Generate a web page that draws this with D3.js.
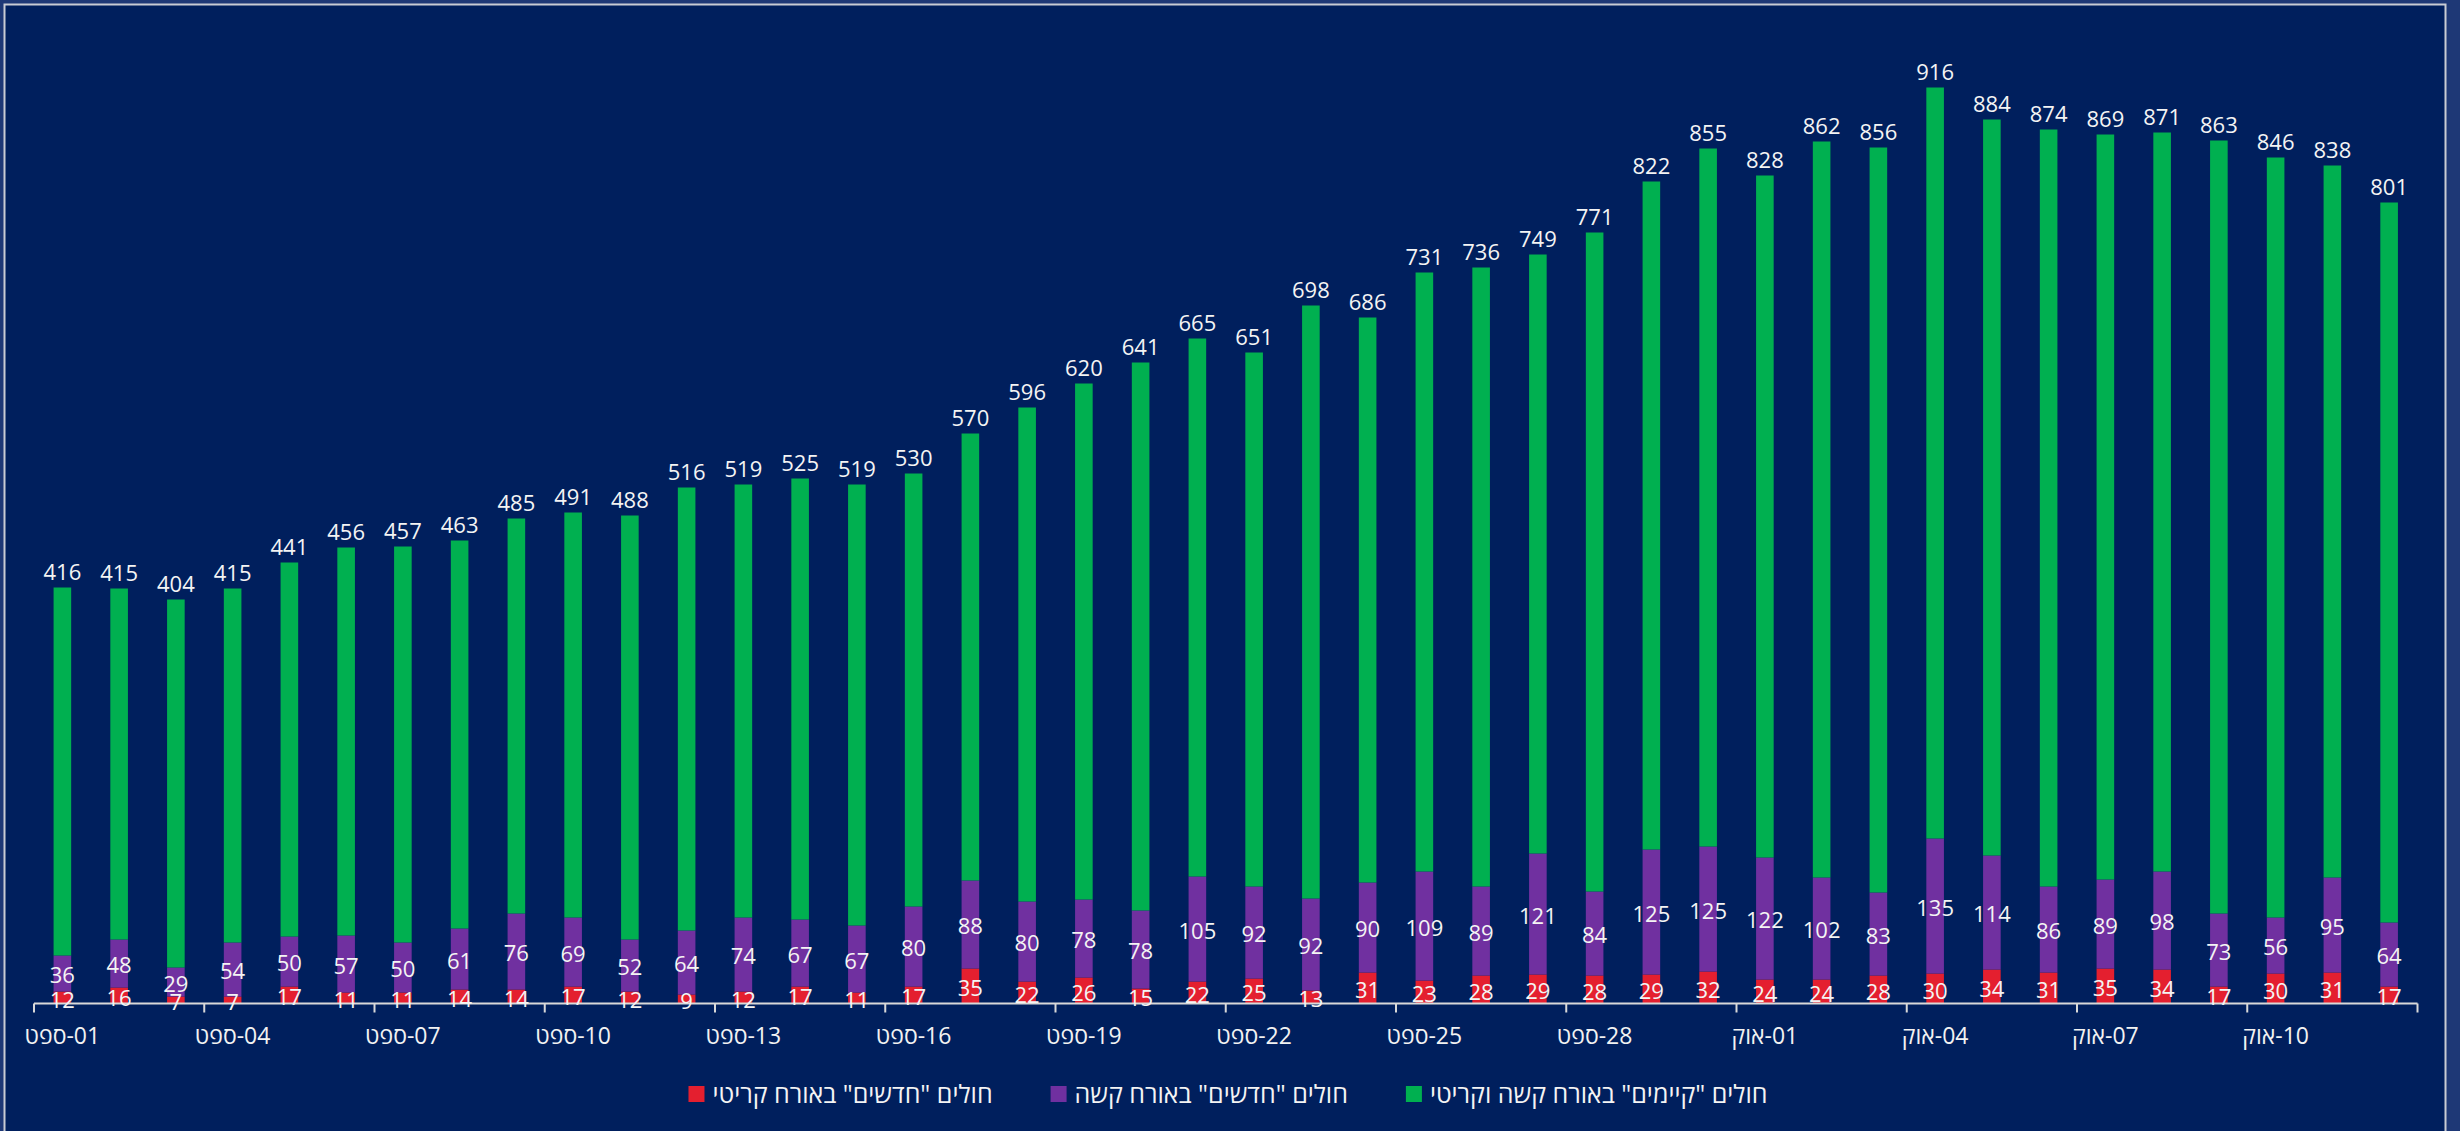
<!DOCTYPE html>
<html>
<head>
<meta charset="utf-8">
<script src="https://cdn.jsdelivr.net/npm/d3@7"></script>
<style>
  body { margin: 0; background: #1e3876; }
  svg { display: block; }
  text { font-family: "Open Sans", "Liberation Sans", "DejaVu Sans", sans-serif; }
</style>
</head>
<body>
<div id="chart"></div>
<script>
// one category per day, 1 Sep - 12 Oct
const categories = [
  '01-ספט', '02-ספט', '03-ספט', '04-ספט', '05-ספט', '06-ספט', '07-ספט', '08-ספט', '09-ספט', '10-ספט',
  '11-ספט', '12-ספט', '13-ספט', '14-ספט', '15-ספט', '16-ספט', '17-ספט', '18-ספט', '19-ספט', '20-ספט',
  '21-ספט', '22-ספט', '23-ספט', '24-ספט', '25-ספט', '26-ספט', '27-ספט', '28-ספט', '29-ספט', '30-ספט',
  '01-אוק', '02-אוק', '03-אוק', '04-אוק', '05-אוק', '06-אוק', '07-אוק', '08-אוק', '09-אוק', '10-אוק',
  '11-אוק', '12-אוק'
];
const tickLabels = [
  '01-ספט', '04-ספט', '07-ספט', '10-ספט', '13-ספט', '16-ספט', '19-ספט', '22-ספט', '25-ספט', '28-ספט',
  '01-אוק', '04-אוק', '07-אוק', '10-אוק'
];

// "existing" serious + critical (label on top = full bar height)
const existingTotal = [
  416, 415, 404, 415, 441, 456, 457, 463, 485, 491,
  488, 516, 519, 525, 519, 530, 570, 596, 620, 641,
  665, 651, 698, 686, 731, 736, 749, 771, 822, 855,
  828, 862, 856, 916, 884, 874, 869, 871, 863, 846,
  838, 801
];
// new serious
const newSerious = [
  36, 48, 29, 54, 50, 57, 50, 61, 76, 69,
  52, 64, 74, 67, 67, 80, 88, 80, 78, 78,
  105, 92, 92, 90, 109, 89, 121, 84, 125, 125,
  122, 102, 83, 135, 114, 86, 89, 98, 73, 56,
  95, 64
];
// new critical
const newCritical = [
  12, 16, 7, 7, 17, 11, 11, 14, 14, 17,
  12, 9, 12, 17, 11, 17, 35, 22, 26, 15,
  22, 25, 13, 31, 23, 28, 29, 28, 29, 32,
  24, 24, 28, 30, 34, 31, 35, 34, 17, 30,
  31, 17
];

const seriesNames = [
  'חולים "חדשים" באורח קריטי',
  'חולים "חדשים" באורח קשה',
  'חולים "קיימים" באורח קשה וקריטי'
];
const seriesColors = ['#e41f2f', '#7030a0', '#00b050'];

const width = 2460, height = 1131;
const axisY = 1003.5;

const svg = d3.select('#chart')
  .append('svg')
  .attr('width', width)
  .attr('height', height);

// frame
svg.append('rect')
  .attr('x', 0).attr('y', 0)
  .attr('width', width).attr('height', height)
  .attr('fill', '#1e3876');
svg.append('rect')
  .attr('x', 4.5).attr('y', 4.5)
  .attr('width', 2441).attr('height', height + 10)
  .attr('fill', '#001f5d')
  .attr('stroke', '#c9ccd4')
  .attr('stroke-width', 2);

const rows = categories.map((c, i) => ({
  cat: c,
  critical: newCritical[i],
  serious: newSerious[i],
  existing: existingTotal[i] - newSerious[i] - newCritical[i]
}));

const keys = ['critical', 'serious', 'existing'];
const stacked = d3.stack().keys(keys)(rows);

const x = d3.scaleBand()
  .domain(categories)
  .range([34, 2417.5])
  .padding(0);

const y = d3.scaleLinear()
  .domain([0, 1000])
  .range([axisY, axisY - 1000]);

const barW = x.bandwidth() * 0.31;

const layers = svg.append('g')
  .selectAll('g')
  .data(stacked)
  .enter().append('g')
  .attr('fill', (d, i) => seriesColors[i]);

layers.selectAll('rect')
  .data(d => d)
  .enter().append('rect')
  .attr('x', d => x(d.data.cat) + x.bandwidth() / 2 - barW / 2)
  .attr('y', d => y(d[1]))
  .attr('width', barW)
  .attr('height', d => y(d[0]) - y(d[1]));

// axis line + labels
const xAxis = d3.axisBottom(x)
  .tickValues(tickLabels)
  .tickSize(0)
  .tickPadding(24);

const axisG = svg.append('g')
  .attr('transform', `translate(0, ${axisY})`)
  .call(xAxis);

axisG.select('.domain')
  .attr('d', `M${x.range()[0]},0H${x.range()[1]}`)
  .attr('stroke', '#d9d9d9')
  .attr('stroke-width', 2);

axisG.selectAll('.tick text')
  .attr('fill', '#f2f2f2')
  .attr('font-size', 23)
  .attr('direction', 'rtl')
  .attr('text-anchor', 'middle');

// tick marks sit on group boundaries (every 3 days)
const tickMarks = tickLabels.map(t => x(t)).concat([x.range()[1]]);
axisG.selectAll('.bound')
  .data(tickMarks)
  .enter().append('line')
  .attr('class', 'bound')
  .attr('x1', d => d).attr('x2', d => d)
  .attr('y1', 0).attr('y2', 9)
  .attr('stroke', '#d9d9d9')
  .attr('stroke-width', 2);

// data labels
const labels = svg.append('g')
  .attr('fill', '#f4f4f4')
  .attr('font-size', 22)
  .attr('text-anchor', 'middle');

labels.selectAll('.top')
  .data(rows)
  .enter().append('text')
  .attr('x', d => x(d.cat) + x.bandwidth() / 2)
  .attr('y', (d, i) => y(existingTotal[i]) - 8)
  .text((d, i) => existingTotal[i]);

labels.selectAll('.mid')
  .data(stacked[1])
  .enter().append('text')
  .attr('x', d => x(d.data.cat) + x.bandwidth() / 2)
  .attr('y', d => (y(d[0]) + y(d[1])) / 2 + 2)
  .attr('dy', '0.35em')
  .text(d => d.data.serious);

labels.selectAll('.low')
  .data(stacked[0])
  .enter().append('text')
  .attr('x', d => x(d.data.cat) + x.bandwidth() / 2)
  .attr('y', d => (y(d[0]) + y(d[1])) / 2 + 2.5)
  .attr('dy', '0.35em')
  .text(d => d.data.critical);

// legend
const legend = svg.append('g');
const items = legend.selectAll('g')
  .data(seriesNames)
  .enter().append('g');

items.append('text')
  .attr('direction', 'rtl')
  .attr('text-anchor', 'middle')
  .attr('font-size', 25)
  .attr('fill', '#f4f4f4')
  .attr('y', 1094)
  .attr('dy', '0.35em')
  .text(d => d);

const sq = 16, gap = 8, spacing = 58;
const widths = [];
items.each(function() {
  widths.push(d3.select(this).select('text').node().getComputedTextLength());
});
const total = d3.sum(widths) + seriesNames.length * (sq + gap) + spacing * (seriesNames.length - 1);
let cursor = 1228 - total / 2;
items.each(function(d, i) {
  const g = d3.select(this);
  g.append('rect')
    .attr('x', cursor)
    .attr('y', 1094 - sq / 2)
    .attr('width', sq)
    .attr('height', sq)
    .attr('fill', seriesColors[i]);
  g.select('text').attr('x', cursor + sq + gap + widths[i] / 2);
  cursor += sq + gap + widths[i] + spacing;
});
</script>
</body>
</html>
